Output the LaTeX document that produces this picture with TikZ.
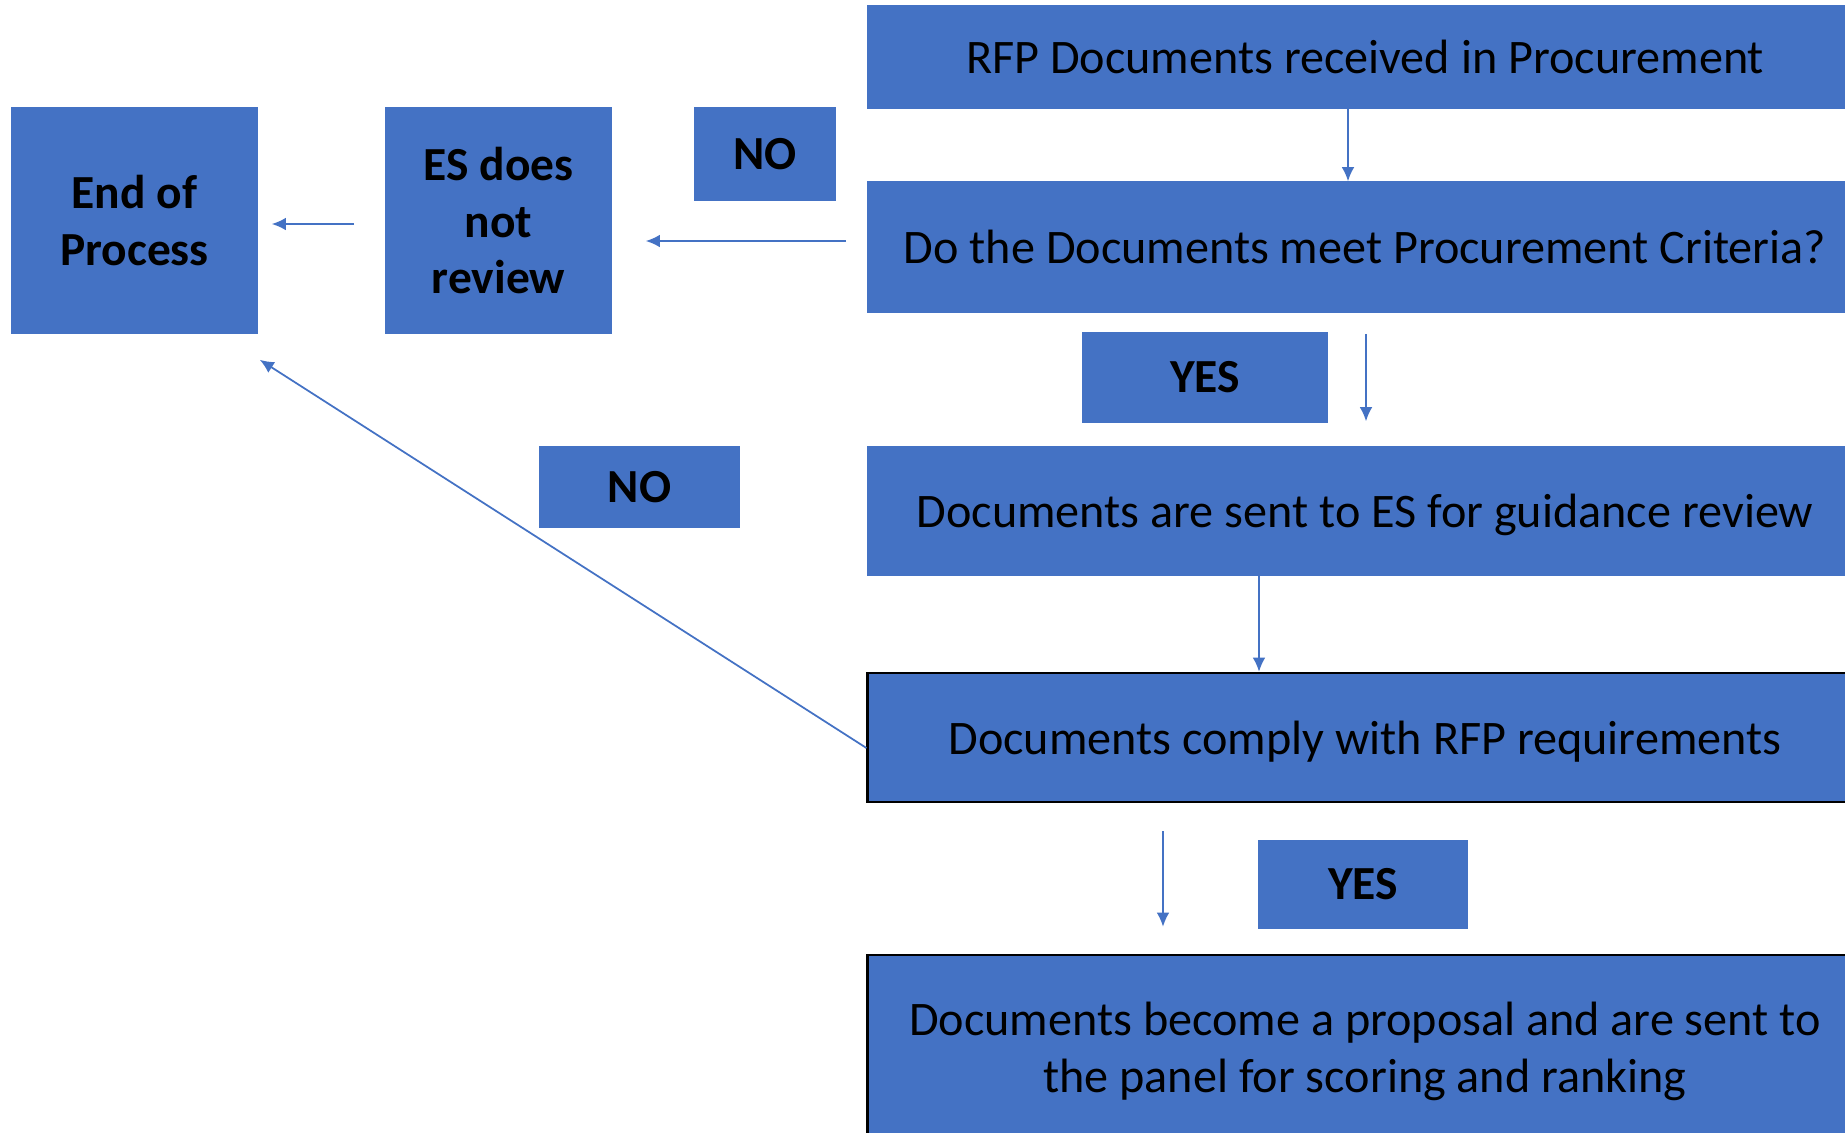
\documentclass[tikz,border=0pt]{standalone}
\usepackage{fontspec}
\setmainfont{Carlito}
\usetikzlibrary{arrows.meta}
\definecolor{boxblue}{HTML}{4472C4}

\begin{document}
\begin{tikzpicture}[x=0.01cm,y=-0.01cm,
  box/.style={fill=boxblue,draw=boxblue,inner sep=0pt,align=center,
    font=\fontsize{13.7}{16.2}\selectfont},
  wide/.style={minimum width=9.94cm,text depth=0pt},
  edged/.style={draw=black,line width=0.7pt},
  tag/.style={font=\fontsize{13.5}{16.2}\selectfont\bfseries},
  arr/.style={draw=boxblue,line width=0.5pt,-{Latex[length=4pt,width=3.6pt]}}]
  % Fix the frame of the picture
  \useasboundingbox (0,0) rectangle (1845,1132);
  \clip (0,0) rectangle (1845,1132);

  % Draw the main boxes on the right
  \node[box,wide,minimum height=1.02cm] (rfp) at (1365,57) {RFP Documents received in Procurement};
  \node[box,wide,minimum height=1.3cm] (crit) at (1365,247) {Do the Documents meet Procurement Criteria?};
  \node[box,wide,minimum height=1.28cm] (sent) at (1365,511) {Documents are sent to ES for guidance review};
  \node[box,wide,edged,minimum height=1.29cm] (comply) at (1365,737.5) {Documents comply with RFP requirements};
  \node[box,wide,edged,minimum height=1.84cm] (panel) at (1365,1047) {Documents become a proposal and are sent to\\the panel for scoring and ranking};

  % Draw the boxes on the left
  \node[box,tag,minimum width=2.45cm,minimum height=2.25cm] (endp) at (134.5,220.5) {End of\\Process};
  \node[box,tag,minimum width=2.25cm,minimum height=2.25cm] (esnr) at (498.5,220.5) {ES does\\not\\review};

  % Draw the YES and NO labels
  \node[box,tag,minimum width=1.4cm,minimum height=0.92cm] (no1) at (765,154) {NO};
  \node[box,tag,minimum width=1.99cm,minimum height=0.8cm] (no2) at (639.5,487) {NO};
  \node[box,tag,minimum width=2.44cm,minimum height=0.89cm] (yes1) at (1205,377.5) {YES};
  \node[box,tag,minimum width=2.08cm,minimum height=0.87cm] (yes2) at (1363,884.5) {YES};

  % Draw the arrows
  \draw[arr] ([shift={(-17,0)}]rfp.south) -- ([shift={(-17,0)}]crit.north);
  \draw[arr] ([shift={(-21,-6)}]crit.west) -- ([shift={(34,20.5)}]esnr.east);
  \draw[arr] ([shift={(-31,3.5)}]esnr.west) -- ([shift={(14,3.5)}]endp.east);
  \draw[arr] ([shift={(1,21)}]crit.south) -- ([shift={(1,-25)}]sent.north);
  \draw[arr] ([shift={(-106,0)}]sent.south) -- ([shift={(-106,0)}]comply.north);
  \draw[arr] ([shift={(0,10.5)}]comply.west) -- ([shift={(2,26)}]endp.south east);
  \draw[arr] ([shift={(-202,28)}]comply.south) -- ([shift={(-202,-27)}]panel.north);
\end{tikzpicture}
\end{document}
